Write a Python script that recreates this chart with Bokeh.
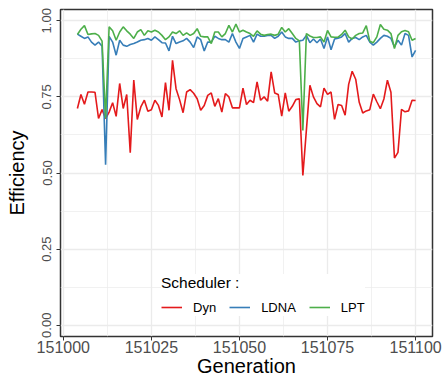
from bokeh.plotting import figure
from bokeh.models import Range1d, FixedTicker, PrintfTickFormatter, Legend, LegendItem
from bokeh.embed import file_html
from bokeh.resources import INLINE

# ---------------- data ----------------
generation = list(range(151004, 151101))

dyn = [0.712, 0.758, 0.726, 0.766, 0.766, 0.765, 0.679, 0.708, 0.679, 0.700,
       0.731, 0.686, 0.794, 0.712, 0.758, 0.567, 0.805, 0.676, 0.717, 0.739,
       0.703, 0.708, 0.739, 0.722, 0.684, 0.797, 0.706, 0.870, 0.777, 0.741,
       0.698, 0.766, 0.774, 0.762, 0.744, 0.706, 0.722, 0.755, 0.763, 0.719,
       0.744, 0.700, 0.761, 0.750, 0.714, 0.714, 0.714, 0.779, 0.725, 0.739,
       0.731, 0.799, 0.739, 0.750, 0.736, 0.832, 0.763, 0.758, 0.687, 0.763,
       0.703, 0.719, 0.741, 0.744, 0.492, 0.641, 0.788, 0.750, 0.728, 0.717,
       0.779, 0.758, 0.766, 0.676, 0.725, 0.722, 0.690, 0.791, 0.834, 0.808,
       0.732, 0.697, 0.704, 0.708, 0.759, 0.734, 0.711, 0.743, 0.805, 0.765,
       0.549, 0.568, 0.709, 0.701, 0.704, 0.739, 0.738]

ldna = [0.956, 0.949, 0.942, 0.947, 0.930, 0.920, 0.930, 0.916, 0.527, 0.949,
        0.930, 0.887, 0.936, 0.920, 0.916, 0.922, 0.925, 0.930, 0.936, 0.938,
        0.942, 0.936, 0.947, 0.938, 0.928, 0.927, 0.901, 0.949, 0.925, 0.930,
        0.934, 0.942, 0.930, 0.912, 0.947, 0.938, 0.901, 0.930, 0.930, 0.949,
        0.942, 0.938, 0.938, 0.930, 0.958, 0.930, 0.909, 0.942, 0.947, 0.952,
        0.930, 0.956, 0.949, 0.949, 0.952, 0.952, 0.942, 0.949, 0.963, 0.947,
        0.942, 0.942, 0.930, 0.934, 0.936, 0.952, 0.928, 0.940, 0.928, 0.940,
        0.909, 0.947, 0.905, 0.940, 0.943, 0.947, 0.958, 0.930, 0.942, 0.945,
        0.938, 0.947, 0.952, 0.930, 0.920, 0.930, 0.942, 0.952, 0.949, 0.942,
        0.914, 0.936, 0.920, 0.958, 0.952, 0.881, 0.903]

lpt = [0.955, 0.972, 0.984, 0.955, 0.957, 0.958, 0.952, 0.933, 0.680, 0.980,
       0.967, 0.936, 0.963, 0.980, 0.967, 0.956, 0.942, 0.963, 0.971, 0.952,
       0.967, 0.963, 0.969, 0.963, 0.952, 0.938, 0.947, 0.963, 0.958, 0.967,
       0.952, 0.960, 0.952, 0.958, 0.974, 0.949, 0.947, 0.947, 0.925, 0.963,
       0.963, 0.947, 0.958, 0.985, 0.963, 0.989, 0.963, 0.969, 0.963, 0.958,
       0.949, 0.967, 0.956, 0.952, 0.955, 0.956, 0.952, 0.956, 0.978, 0.963,
       0.974, 0.958, 0.942, 0.934, 0.640, 0.958, 0.950, 0.945, 0.945, 0.947,
       0.930, 0.968, 0.947, 0.946, 0.946, 0.955, 0.969, 0.947, 0.940, 0.952,
       0.958, 0.960, 0.984, 0.933, 0.928, 0.947, 0.988, 0.972, 0.969, 0.958,
       0.909, 0.952, 0.964, 0.968, 0.964, 0.936, 0.942]

series_names = ["Dyn", "LDNA", "LPT"]
series_colors = ["#E41A1C", "#377EB8", "#4DAF4A"]

x_ticks = [151000, 151025, 151050, 151075, 151100]
x_minor = [151012.5, 151037.5, 151062.5, 151087.5]
y_ticks = [0.0, 0.25, 0.5, 0.75, 1.0]
y_minor = [0.125, 0.375, 0.625, 0.875]

FONT = "Liberation Sans"

# ---------------- figure ----------------
x0, x1 = 150999.2, 151104.8
p = figure(width=444, height=379, output_backend="svg", toolbar_location=None,
           x_range=Range1d(x0, x1), y_range=Range1d(-0.037, 1.037),
           min_border_left=60, min_border_right=12, min_border_top=9,
           min_border_bottom=42)
p.background_fill_color = "white"
p.border_fill_color = "white"
p.outline_line_color = "#333333"
p.outline_line_width = 1.5

for g in (p.xgrid, p.ygrid):
    g.grid_line_color = "#EBEBEB"
    g.grid_line_width = 1.3
    g.minor_grid_line_color = "#EBEBEB"
    g.minor_grid_line_width = 0.7

xa = p.xaxis[0]
xa.ticker = FixedTicker(ticks=x_ticks, minor_ticks=x_minor)
xa.formatter = PrintfTickFormatter(format="%d")
xa.major_label_text_font = FONT
xa.major_label_text_font_size = "16px"
xa.major_label_text_color = "#4D4D4D"
xa.major_label_standoff = 0
xa.major_tick_out = 4
xa.major_tick_in = 0
xa.major_tick_line_color = "#333333"
xa.minor_tick_line_color = None
xa.axis_line_color = None
xa.axis_label = "Generation"
xa.axis_label_text_font = FONT
xa.axis_label_text_font_size = "20px"
xa.axis_label_text_font_style = "normal"
xa.axis_label_text_color = "black"
xa.axis_label_standoff = -1

ya = p.yaxis[0]
ya.ticker = FixedTicker(ticks=y_ticks, minor_ticks=y_minor)
ya.formatter = PrintfTickFormatter(format="%.2f")
ya.major_label_orientation = "vertical"
ya.major_label_text_font = FONT
ya.major_label_text_font_size = "13px"
ya.major_label_text_color = "#4D4D4D"
ya.major_label_standoff = 5
ya.major_tick_out = 4
ya.major_tick_in = 0
ya.major_tick_line_color = "#333333"
ya.minor_tick_line_color = None
ya.axis_line_color = None
ya.axis_label = "Efficiency"
ya.axis_label_text_font = FONT
ya.axis_label_text_font_size = "20px"
ya.axis_label_text_font_style = "normal"
ya.axis_label_text_color = "black"
ya.axis_label_standoff = 12

renderers = []
for vals, name, col in zip([dyn, ldna, lpt], series_names, series_colors):
    r = p.line(generation, vals, line_color=col, line_width=1.6)
    renderers.append(r)

legend = Legend(items=[LegendItem(label=n, renderers=[r]) for n, r in zip(series_names, renderers)],
                orientation="horizontal", location=(101, 20), title="Scheduler :")
legend.title_text_font = FONT
legend.title_text_font_size = "15.5px"
legend.title_text_font_style = "normal"
legend.title_text_color = "black"
legend.title_standoff = 6
legend.label_text_font = FONT
legend.label_text_font_size = "13px"
legend.label_text_color = "black"
legend.glyph_width = 21
legend.glyph_height = 18
legend.label_standoff = 11
legend.spacing = 13
legend.padding = 10
legend.margin = 0
legend.border_line_color = None
legend.background_fill_color = "white"
legend.background_fill_alpha = 1.0
p.add_layout(legend)

open("out.html", "w").write(file_html(p, INLINE))
